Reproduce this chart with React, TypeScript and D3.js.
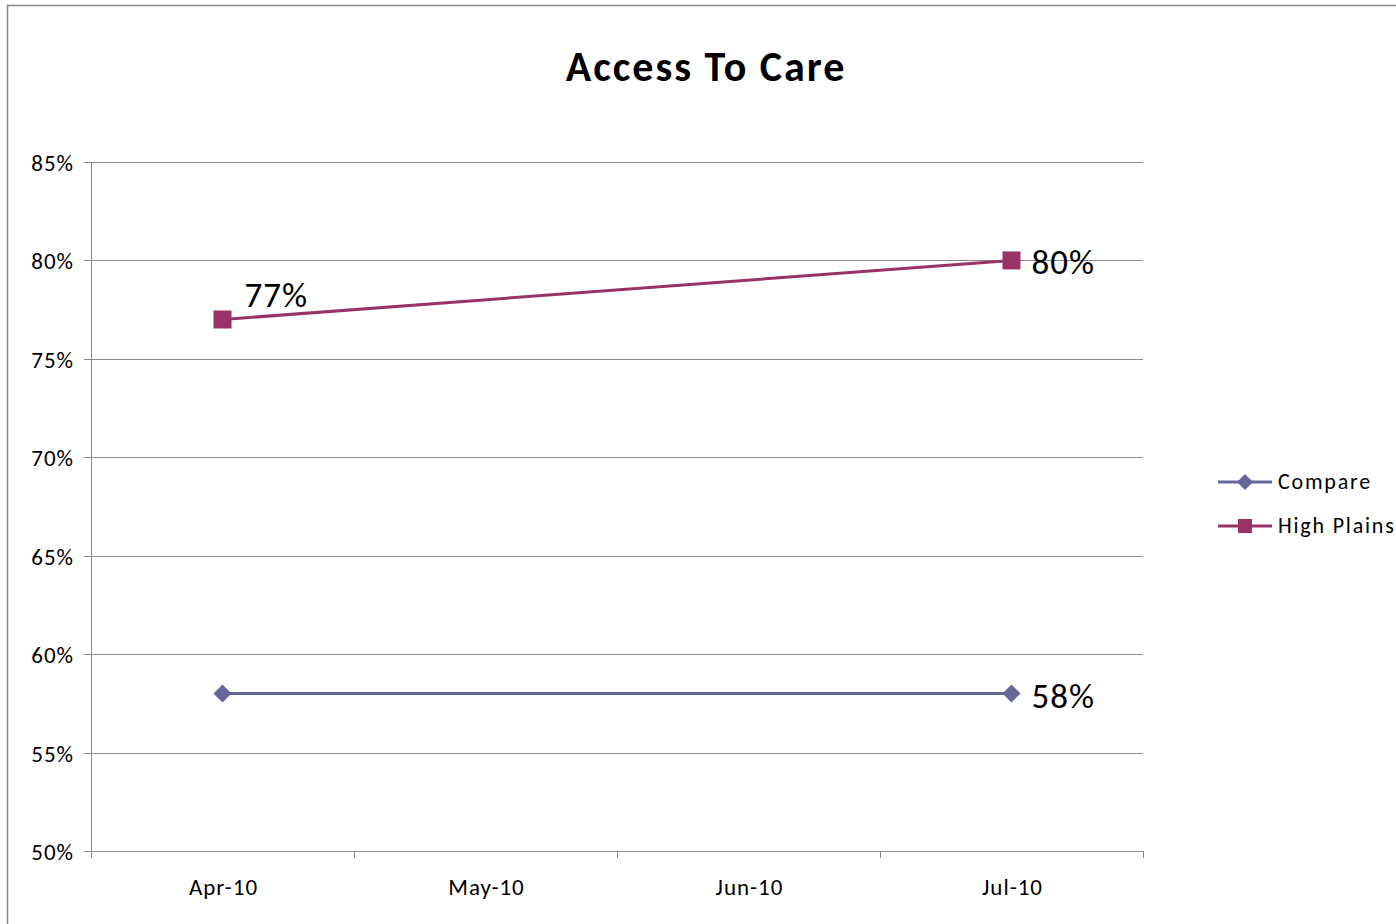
import React from "react";
import * as d3 from "d3";

const categories = ["Apr-10", "May-10", "Jun-10", "Jul-10"];
const compareValues: (number | null)[] = [0.58, null, null, 0.58];
const highPlainsValues: (number | null)[] = [0.77, null, null, 0.80];
const yTicks = [0.5, 0.55, 0.6, 0.65, 0.7, 0.75, 0.8, 0.85];
const title = "Access To Care";
const seriesNames = ["Compare", "High Plains"];
const seriesColors = ["#666699", "#993366"];

const FONT = "Calibri, Carlito, Lato, 'Open Sans', sans-serif";

export default function App() {
  const W = 1396, H = 924;
  const left = 91, right = 1143, top = 162, bottom = 851;
  const x = d3.scaleBand<string>().domain(categories).range([left, right]).padding(0);
  const y = d3.scaleLinear().domain([0.5, 0.85]).range([bottom, top]);
  const cx = (c: string) => (x(c) as number) + x.bandwidth() / 2;
  const fmt = d3.format(".0%");

  const pts = (vals: (number | null)[]) =>
    categories.map((c, i) => ({ c, v: vals[i] })).filter((d) => d.v !== null) as { c: string; v: number }[];
  const line = d3.line<{ c: string; v: number }>().x((d) => cx(d.c)).y((d) => y(d.v));

  const cmp = pts(compareValues);
  const hp = pts(highPlainsValues);

  const diamond = (px: number, py: number, r: number) =>
    `M${px},${py - r}L${px + r},${py}L${px},${py + r}L${px - r},${py}Z`;

  return (
    <svg width={W} height={H} style={{ position: "absolute", left: 0, top: 0 }}>
      <rect x={0} y={0} width={W} height={H} fill="#fff" />
      <rect x={7.5} y={5.5} width={W + 20} height={H + 20} fill="none" stroke="#888" strokeWidth={1.5} />
      <text x={706} y={81} textAnchor="middle" fontFamily={FONT} fontWeight="bold" fontSize={42} letterSpacing={2} fill="#000">
        {title}
      </text>
      {yTicks.map((t) => (
        <g key={t}>
          <line x1={left - 7} x2={right} y1={Math.round(y(t)) + 0.5} y2={Math.round(y(t)) + 0.5} stroke="#888" strokeWidth={1} />
          <text x={74} y={y(t) + 9} textAnchor="end" fontFamily={FONT} fontSize={23} letterSpacing={1} fill="#000">
            {fmt(t)}
          </text>
        </g>
      ))}
      <line x1={left + 0.5} x2={left + 0.5} y1={top} y2={bottom} stroke="#888" />
      {[...categories.map((c) => x(c) as number), right].map((tx, i) => (
        <line key={i} x1={Math.round(tx) + 0.5} x2={Math.round(tx) + 0.5} y1={bottom} y2={bottom + 7} stroke="#888" />
      ))}
      {categories.map((c) => (
        <text key={c} x={cx(c) + 1} y={895} textAnchor="middle" fontFamily={FONT} fontSize={23} letterSpacing={1} fill="#000">
          {c}
        </text>
      ))}
      <path d={line(cmp) || ""} fill="none" stroke={seriesColors[0]} strokeWidth={3} />
      {cmp.map((d, i) => (
        <path key={i} d={diamond(cx(d.c), y(d.v), 9)} fill={seriesColors[0]} />
      ))}
      <path d={line(hp) || ""} fill="none" stroke={seriesColors[1]} strokeWidth={3} />
      {hp.map((d, i) => (
        <rect key={i} x={cx(d.c) - 9} y={y(d.v) - 9} width={18} height={18} fill={seriesColors[1]} />
      ))}
      {/* data labels */}
      <text x={cx(hp[0].c) + 22} y={y(hp[0].v) - 12} fontFamily={FONT} fontSize={35} letterSpacing={1} fill="#000">
        {fmt(hp[0].v)}
      </text>
      <text x={cx(hp[1].c) + 20} y={y(hp[1].v) + 14} fontFamily={FONT} fontSize={35} letterSpacing={1} fill="#000">
        {fmt(hp[1].v)}
      </text>
      <text x={cx(cmp[1].c) + 20} y={y(cmp[1].v) + 14} fontFamily={FONT} fontSize={35} letterSpacing={1} fill="#000">
        {fmt(cmp[1].v)}
      </text>
      {/* legend */}
      {seriesNames.map((n, i) => {
        const ly = 482 + i * 44;
        return (
          <g key={n}>
            <line x1={1218} x2={1272} y1={ly} y2={ly} stroke={seriesColors[i]} strokeWidth={3} />
            {i === 0 ? (
              <path d={diamond(1245, ly, 8)} fill={seriesColors[i]} />
            ) : (
              <rect x={1238} y={ly - 7} width={14} height={14} fill={seriesColors[i]} />
            )}
            <text x={1278} y={ly + 7} fontFamily={FONT} fontSize={22} letterSpacing={1.8} fill="#000">
              {n}
            </text>
          </g>
        );
      })}
    </svg>
  );
}
